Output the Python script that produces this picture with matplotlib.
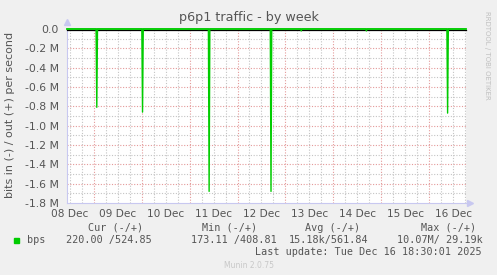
import numpy as np
import matplotlib.pyplot as plt
from matplotlib import transforms

# time axis in days since 08 Dec 00:00
t_start = 0.44
t_end = 8.77  # last update Tue Dec 16 18:30

# spikes of the "in" series (drawn negative), in bits per second
spike_days = [1.062, 2.017, 3.407, 4.699, 5.33, 6.69, 8.386]
spike_bps = [-0.81e6, -0.86e6, -1.68e6, -1.68e6, -0.02e6, -0.02e6, -0.87e6]

# "out" series stays close to zero all week
out_days = [t_start, t_end]
out_bps = [525.0, 525.0]

day_labels = ["08 Dec", "09 Dec", "10 Dec", "11 Dec", "12 Dec",
              "13 Dec", "14 Dec", "15 Dec", "16 Dec"]
y_ticks = [0, -0.2e6, -0.4e6, -0.6e6, -0.8e6, -1.0e6, -1.2e6, -1.4e6, -1.6e6, -1.8e6]

legend_head = ["Cur (-/+)", "Min (-/+)", "Avg (-/+)", "Max (-/+)"]
legend_vals = ["220.00 /524.85", "173.11 /408.81", "15.18k/561.84", "10.07M/ 29.19k"]

# build the "in" line from the spikes
in_days = [t_start]
in_bps = [-220.0]
for d, v in zip(spike_days, spike_bps):
    in_days += [d - 0.015, d, d + 0.015]
    in_bps += [-220.0, v, -220.0]
in_days.append(t_end)
in_bps.append(-220.0)

green = "#00cc00"
W, H = 497, 275
fig = plt.figure(figsize=(W / 100, H / 100), dpi=100, facecolor="#f0f0f0")
ax = fig.add_axes([67 / W, (H - 203) / H, (466 - 67) / W, (203 - 29) / H])
ax.set_facecolor("white")

ax.set_xlim(t_start, t_end)
ax.set_ylim(-1.8e6, 0)

# grid: minor every 6 h / 0.1 M in grey, major every day / 0.2 M in red
grid_ls = (0, (1, 1.5))
for x in np.arange(0.5, 9, 0.25):
    if t_start < x < t_end and abs(x - round(x)) > 0.01:
        ax.axvline(x, color="#c4c4c4", lw=0.8, ls=grid_ls, zorder=0)
for x in range(1, 9):
    ax.axvline(x, color="#e49a9a", lw=0.8, ls=grid_ls, zorder=0)
for y in np.arange(-1.7e6, 0, 0.2e6):
    ax.axhline(y, color="#c4c4c4", lw=0.8, ls=grid_ls, zorder=0)
for y in y_ticks[1:-1]:
    ax.axhline(y, color="#e49a9a", lw=0.8, ls=grid_ls, zorder=0)

# zero rule (black, one pixel below) and the two series
down = transforms.offset_copy(ax.transData, fig=fig, x=0, y=-1.0, units="dots")
ax.plot([t_start, t_end], [0, 0], color="black", lw=0.9, transform=down,
        clip_on=False, zorder=3)
ax.plot(in_days, in_bps, color=green, lw=1.0, zorder=4, clip_on=False)
ax.plot(out_days, out_bps, color=green, lw=1.2, zorder=4, clip_on=False)

# axes look
for s in ["top", "right"]:
    ax.spines[s].set_visible(False)
for s in ["left", "bottom"]:
    ax.spines[s].set_color("#c8c8f0")
    ax.spines[s].set_linewidth(0.8)
ax.plot([0], [1.04], marker="^", color="#c8c8f0", ms=4, transform=ax.transAxes,
        clip_on=False)
ax.plot([1.01], [0], marker=">", color="#c8c8f0", ms=4, transform=ax.transAxes,
        clip_on=False)

ax.set_yticks(y_ticks)
ax.set_yticklabels(["0.0"] + [f"{v / 1e6:.1f} M" for v in y_ticks[1:]])
ax.set_xticks(np.arange(0.5, 9, 1.0))
ax.set_xticklabels(day_labels)
ax.tick_params(axis="both", length=0, labelsize=7.6, colors="#555555", pad=4)
ax.tick_params(axis="y", labelsize=7.8, pad=6)

fig.text(0.5, 1 - 18 / H, "p6p1 traffic - by week", ha="center", va="center",
         fontsize=9.2, color="#555555")
fig.text(10 / W, 1 - 115 / H, "bits in (-) / out (+) per second", rotation=90,
         ha="center", va="center", fontsize=8, color="#555555")
fig.text(487 / W, 1 - 55 / H, "RRDTOOL / TOBI OETIKER", rotation=270,
         ha="center", va="center", fontsize=5, color="#c0c0c0")

# legend block in monospace
mono = dict(family="DejaVu Sans Mono", fontsize=7.3, color="#555555")
head_x = [116, 230, 333, 449]
for x, txt in zip(head_x, legend_head):
    fig.text(x / W, 1 - 228 / H, txt, ha="center", va="center", **mono)
fig.patches.append(plt.Rectangle((14 / W, 1 - 243 / H), 5 / W, 5 / H,
                                 transform=fig.transFigure, color=green))
fig.text(27 / W, 1 - 240 / H, "bps", ha="left", va="center", **mono)
val_x = [152, 277, 368, 483]
for x, txt in zip(val_x, legend_vals):
    fig.text(x / W, 1 - 240 / H, txt, ha="right", va="center", **mono)
fig.text(482 / W, 1 - 252 / H, "Last update: Tue Dec 16 18:30:01 2025",
         ha="right", va="center", **mono)
fig.text(0.5, 1 - 265 / H, "Munin 2.0.75", ha="center", va="center",
         fontsize=5.5, color="#c8c8c8")

fig.savefig("out.png", dpi=100, facecolor=fig.get_facecolor())
